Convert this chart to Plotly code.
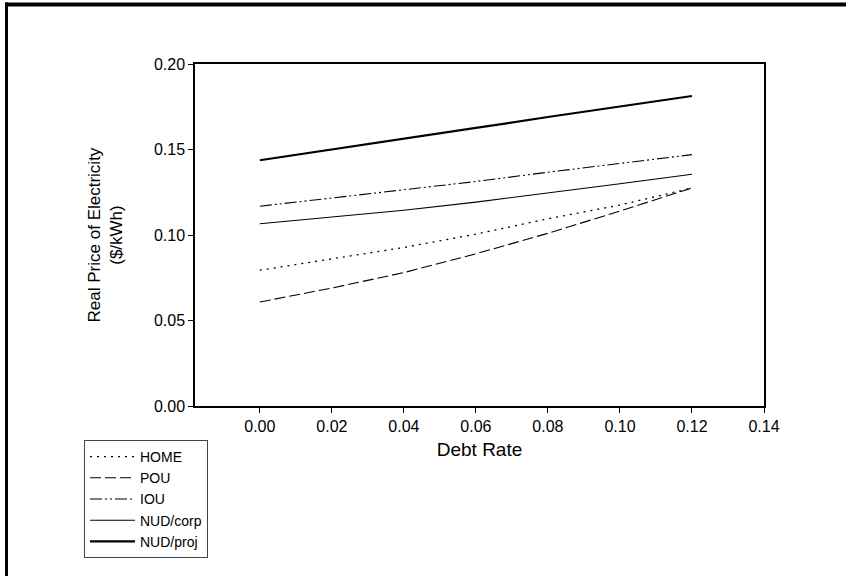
import plotly.graph_objects as go

# Debt rate (x) and real price of electricity ($/kWh) for each ownership case
debt_rate = [0.00, 0.02, 0.04, 0.06, 0.08, 0.10, 0.12]
home = [0.0794, 0.0860, 0.0927, 0.1005, 0.1095, 0.1175, 0.1275]
pou = [0.0608, 0.0690, 0.0780, 0.0890, 0.1010, 0.1140, 0.1275]
iou = [0.1168, 0.1216, 0.1263, 0.1313, 0.1367, 0.1420, 0.1470]
nud_corp = [0.1066, 0.1104, 0.1145, 0.1192, 0.1244, 0.1300, 0.1355]
nud_proj = [0.1437, 0.1499, 0.1565, 0.1626, 0.1690, 0.1752, 0.1813]

x_ticks = [0.00, 0.02, 0.04, 0.06, 0.08, 0.10, 0.12, 0.14]
y_ticks = [0.00, 0.05, 0.10, 0.15, 0.20]

FONT = "Liberation Sans, Arial, sans-serif"

series = [
    ("HOME", home, dict(color="black", width=1.3, dash="2px,5px")),
    ("POU", pou, dict(color="black", width=1.1, dash="11px,4px")),
    ("IOU", iou, dict(color="black", width=1.1, dash="12px,3px,2px,3px,2px,3px")),
    ("NUD/corp", nud_corp, dict(color="black", width=1.1)),
    ("NUD/proj", nud_proj, dict(color="black", width=2.2)),
]

fig = go.Figure()
for name, vals, line in series:
    fig.add_trace(go.Scatter(x=debt_rate, y=vals, mode="lines", name=name, line=line))

# plot area in pixels: left 195, right 764, top 64, bottom 406
W, H = 846, 576
L, R, T, B = 195, 764, 64, 406


def px_x(p):
    return (p - L) / (R - L)


def px_y(p):
    return (B - p) / (B - T)


fig.update_layout(
    width=W,
    height=H,
    margin=dict(l=L, r=W - R, t=T, b=H - B, pad=0),
    paper_bgcolor="white",
    plot_bgcolor="white",
    font=dict(family=FONT, size=15, color="black"),
    showlegend=True,
    legend=dict(
        x=px_x(84),
        y=px_y(440),
        xanchor="left",
        yanchor="top",
        bordercolor="#444",
        borderwidth=1,
        bgcolor="white",
        font=dict(family=FONT, size=14, color="black"),
        tracegroupgap=0,
        itemwidth=45,
    ),
    shapes=[
        # outer frame: heavy top and left rules
        dict(type="line", xref="paper", yref="paper",
             x0=px_x(5), x1=px_x(846), y0=px_y(4.5), y1=px_y(4.5),
             line=dict(color="black", width=4)),
        dict(type="line", xref="paper", yref="paper",
             x0=px_x(6.5), x1=px_x(6.5), y0=px_y(2.5), y1=px_y(576),
             line=dict(color="black", width=3)),
    ],
)

fig.update_xaxes(
    range=[-0.018, 0.14],
    tickvals=x_ticks,
    tickformat=".2f",
    ticks="outside",
    ticklen=5,
    tickwidth=1,
    tickcolor="black",
    showline=True,
    linecolor="black",
    linewidth=1.5,
    mirror=True,
    showgrid=False,
    zeroline=False,
    tickfont=dict(family=FONT, size=16),
    title=dict(text="Debt Rate", font=dict(family=FONT, size=19), standoff=9),
)
fig.update_yaxes(
    range=[0, 0.20],
    tickvals=y_ticks,
    tickformat=".2f",
    ticks="outside",
    ticklen=5,
    tickwidth=1,
    tickcolor="black",
    showline=True,
    linecolor="black",
    linewidth=1.5,
    mirror=True,
    showgrid=False,
    zeroline=False,
    tickfont=dict(family=FONT, size=16),
    title=dict(text="Real Price of Electricity<br>($/kWh)", font=dict(family=FONT, size=17), standoff=27),
)

fig.write_html("out.html")
